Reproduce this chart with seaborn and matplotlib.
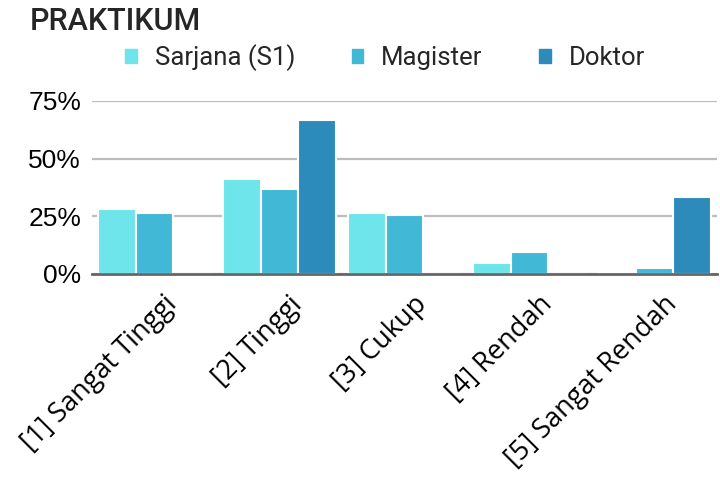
import pandas as pd
import matplotlib
matplotlib.use('Agg')
import matplotlib.pyplot as plt
import matplotlib.transforms as mtransforms
import seaborn as sns
from matplotlib.ticker import PercentFormatter

# data
categories = ['[1] Sangat Tinggi', '[2] Tinggi', '[3] Cukup', '[4] Rendah', '[5] Sangat Rendah']
levels = ['Sarjana (S1)', 'Magister', 'Doktor']
s1 = [0.28, 0.412, 0.262, 0.048, 0.006]
magister = [0.262, 0.37, 0.255, 0.094, 0.026]
doktor = [0.0, 0.667, 0.0, 0.0, 0.333]
colors = ['#6DE5EA', '#42B8D7', '#2C8BBA']

df = pd.DataFrame({
    'kategori': categories * 3,
    'jenjang': [levels[0]] * 5 + [levels[1]] * 5 + [levels[2]] * 5,
    'nilai': s1 + magister + doktor,
})

sns.set_style('white')
plt.rcParams['font.family'] = ['Roboto', 'DejaVu Sans']

fig = plt.figure(figsize=(7.2, 4.83), dpi=100)
ax = fig.add_axes([0.128, 0.433, 0.868, 0.358])

sns.barplot(data=df, x='kategori', y='nilai', hue='jenjang', palette=colors,
            saturation=1, width=0.9, edgecolor='white', linewidth=1.5, ax=ax,
            legend=False)

ax.set_ylim(0, 0.75)
ax.set_xlim(-0.5, 4.5)
ax.set_yticks([0, 0.25, 0.5, 0.75])
ax.yaxis.set_major_formatter(PercentFormatter(1.0, decimals=0))
ax.grid(axis='y', color='#BDBDBD', linewidth=1.6)
ax.set_axisbelow(True)
for s in ['left', 'right', 'top']:
    ax.spines[s].set_visible(False)
ax.spines['bottom'].set_color('#666666')
ax.spines['bottom'].set_linewidth(2)
ax.tick_params(axis='y', length=0, colors='black', pad=8)
ax.tick_params(axis='x', length=0, colors='black', pad=12)
ax.set_xlabel('')
ax.set_ylabel('')
for t in ax.get_yticklabels():
    t.set_fontfamily('Liberation Sans')
    t.set_fontsize(19)
shift = mtransforms.ScaledTranslation(6 / 72, 0, fig.dpi_scale_trans)
for t in ax.get_xticklabels():
    t.set_fontfamily('Open Sans')
    t.set_fontsize(19.5)
    t.set_rotation(45)
    t.set_ha('right')
    t.set_rotation_mode('anchor')
    t.set_transform(t.get_transform() + shift)

fig.text(0.042, 0.955, 'PRAKTIKUM', fontsize=22, fontweight='medium', va='center')

handles = [plt.Rectangle((0, 0), 1, 1, color=c) for c in colors]
fig.legend(handles, levels, loc='center', bbox_to_anchor=(0.535, 0.88), ncol=3,
           frameon=False, fontsize=18.5, handlelength=0.45, handleheight=0.45,
           handletextpad=0.7, columnspacing=2.2)

fig.savefig('out.png', dpi=100)
